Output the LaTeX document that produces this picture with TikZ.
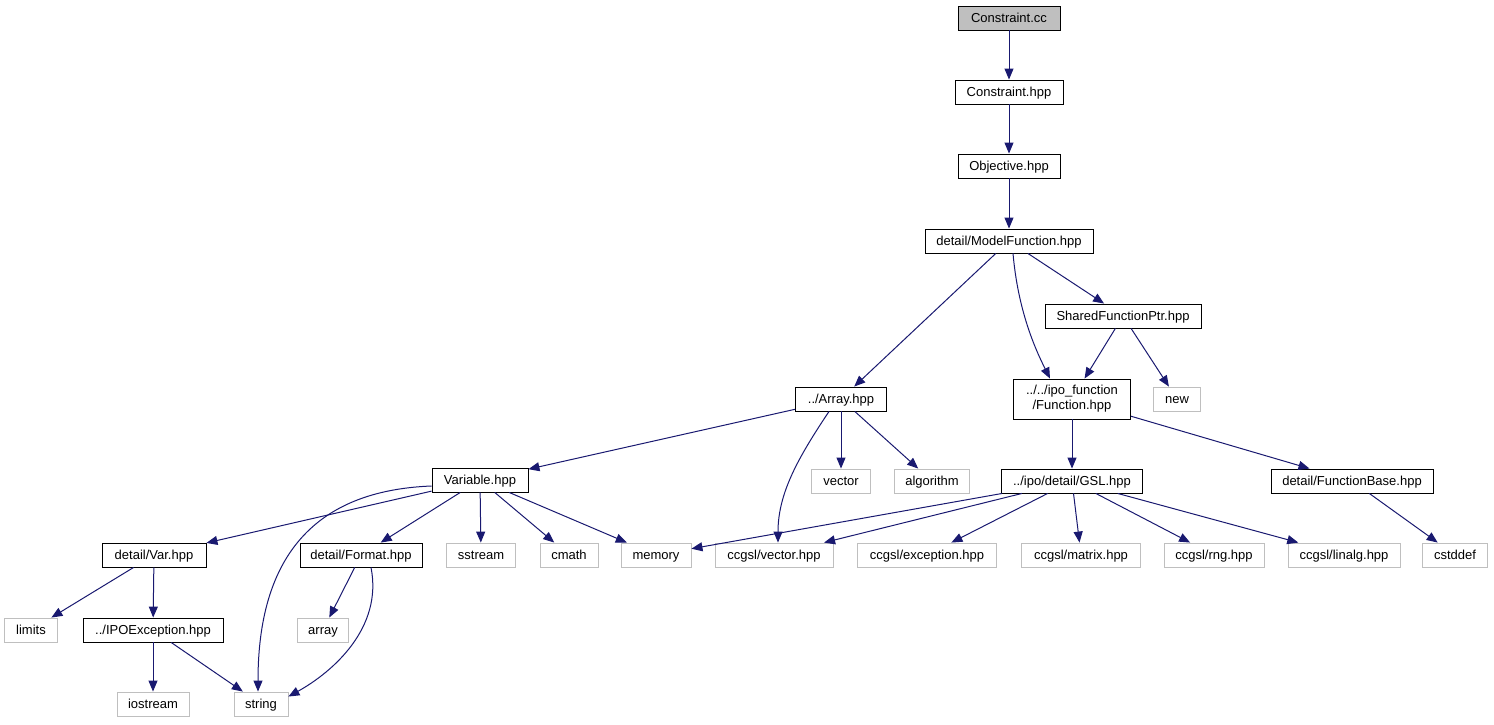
\documentclass[tikz,border=0pt]{standalone}
\usepackage{fontspec}
\setmainfont{Liberation Sans}
\usepackage{tikz}
\usetikzlibrary{arrows.meta}

\definecolor{edgeblue}{RGB}{25,25,112}
\definecolor{sysgray}{RGB}{191,191,191}

\tikzset{
  hdr/.style={draw=black, line width=0.9pt, inner sep=0pt, minimum height=24pt, text height=11.5pt, text depth=2.5pt, font=\fontsize{13}{15}\selectfont},
  sys/.style={hdr, draw=sysgray},
  root/.style={hdr, fill=sysgray},
  dep/.style={draw=edgeblue, line width=1pt, -{Triangle[length=11pt,width=9pt]}, fill=none}
}

\begin{document}
\begin{tikzpicture}[x=1pt, y=-1pt]
\useasboundingbox (0,0) rectangle (1494,724);
\node[root, minimum width=102pt] (cc) at (1009,18) {Constraint.cc};
\node[hdr, minimum width=108pt] (conshpp) at (1009,92) {Constraint.hpp};
\node[hdr, minimum width=102pt] (objhpp) at (1009,166) {Objective.hpp};
\node[hdr, minimum width=168pt] (modelfn) at (1009,241) {detail/ModelFunction.hpp};
\node[hdr, minimum width=156pt] (sharedptr) at (1123,316) {SharedFunctionPtr.hpp};
\node[hdr, minimum width=117pt, minimum height=40pt, text height=, text depth=, align=center] (fnhpp) at (1072,399) {../../ipo\_function\\/Function.hpp};
\node[sys, minimum width=47pt] (newsys) at (1177,399) {new};
\node[hdr, minimum width=91pt] (arrayhpp) at (841,399) {../Array.hpp};
\node[hdr, minimum width=96pt] (varhpp) at (480,480) {Variable.hpp};
\node[sys, minimum width=59pt] (vecsys) at (841,481) {vector};
\node[sys, minimum width=75pt] (algsys) at (932,481) {algorithm};
\node[hdr, minimum width=141pt] (gslhpp) at (1072,481) {../ipo/detail/GSL.hpp};
\node[hdr, minimum width=162pt] (fnbase) at (1352,481) {detail/FunctionBase.hpp};
\node[hdr, minimum width=104pt] (detvar) at (154,555) {detail/Var.hpp};
\node[hdr, minimum width=122pt] (detfmt) at (361,555) {detail/Format.hpp};
\node[sys, minimum width=69pt] (sstr) at (481,555) {sstream};
\node[sys, minimum width=58pt] (cmathsys) at (569,555) {cmath};
\node[sys, minimum width=70pt] (memsys) at (656,555) {memory};
\node[sys, minimum width=118pt] (gvec) at (774,555) {ccgsl/vector.hpp};
\node[sys, minimum width=139pt] (gexc) at (927,555) {ccgsl/exception.hpp};
\node[sys, minimum width=119pt] (gmat) at (1081,555) {ccgsl/matrix.hpp};
\node[sys, minimum width=100pt] (grng) at (1214,555) {ccgsl/rng.hpp};
\node[sys, minimum width=112pt] (glin) at (1344,555) {ccgsl/linalg.hpp};
\node[sys, minimum width=65pt] (cstd) at (1455,555) {cstddef};
\node[sys, minimum width=53pt] (lim) at (31,630) {limits};
\node[hdr, minimum width=140pt] (ipoexc) at (153,630) {../IPOException.hpp};
\node[sys, minimum width=51pt] (arr) at (323,630) {array};
\node[sys, minimum width=72pt] (iostr) at (153,704) {iostream};
\node[sys, minimum width=54pt] (str) at (261,704) {string};
\foreach \a/\b in {cc/conshpp, conshpp/objhpp, objhpp/modelfn, modelfn/arrayhpp, modelfn/sharedptr,
  sharedptr/fnhpp, sharedptr/newsys, arrayhpp/varhpp, arrayhpp/vecsys, arrayhpp/algsys,
  fnhpp/gslhpp, fnhpp/fnbase, varhpp/detvar, varhpp/detfmt, varhpp/sstr, varhpp/cmathsys, varhpp/memsys,
  gslhpp/memsys, gslhpp/gvec, gslhpp/gexc, gslhpp/gmat, gslhpp/grng, gslhpp/glin, fnbase/cstd,
  detvar/lim, detvar/ipoexc, detfmt/arr, ipoexc/iostr, ipoexc/str}
  \draw[dep] (\a) -- (\b);
\draw[dep] ([xshift=4pt]modelfn.south) .. controls +(5,57) and +(-15,-30) .. ([xshift=-22pt]fnhpp.north);
\draw[dep] ([xshift=-12pt]arrayhpp.south) .. controls +(-30,45) and +(0,-50) .. ([xshift=4pt]gvec.north);
\draw[dep] ([yshift=-6pt]varhpp.west) .. controls +(-130,5) and +(0,-120) .. ([xshift=-3pt]str.north);
\draw[dep] ([xshift=10pt]detfmt.south) .. controls +(12,60) and +(45,-25) .. ([yshift=-5pt]str.north east);
\end{tikzpicture}
\end{document}
